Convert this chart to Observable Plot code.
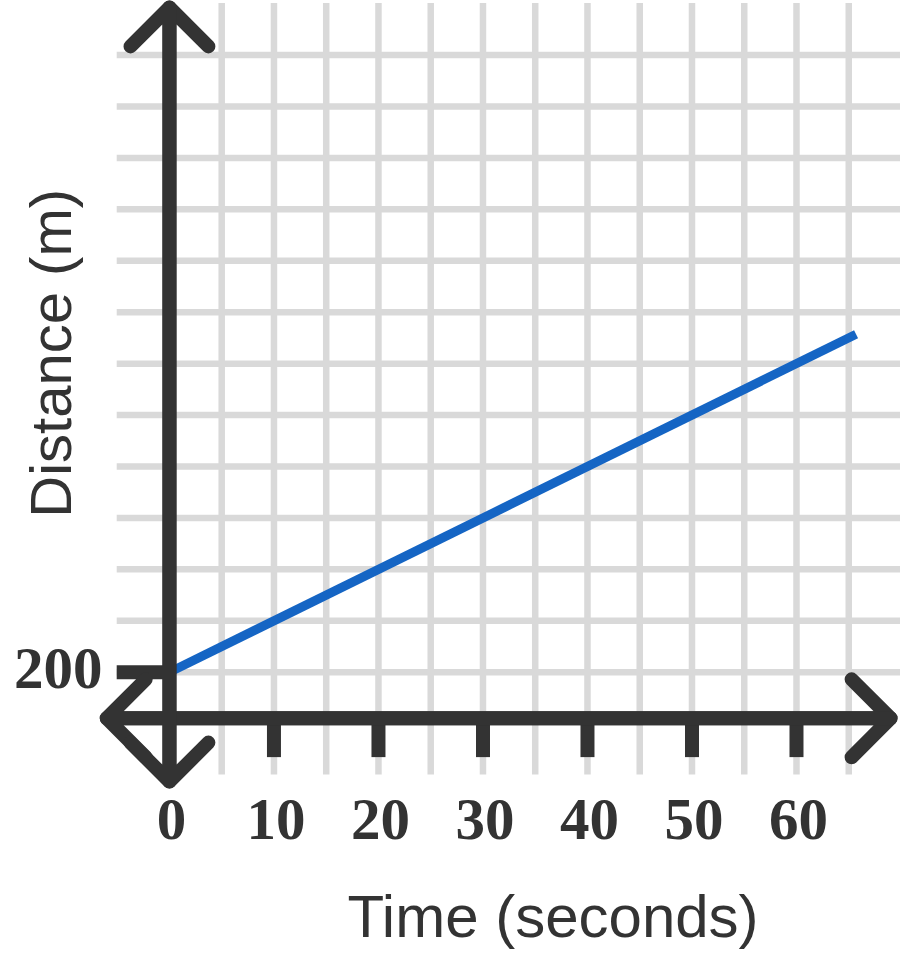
<!DOCTYPE html>
<html>
<head>
<meta charset="utf-8">
<script src="https://cdn.jsdelivr.net/npm/d3@7"></script>
<script src="https://cdn.jsdelivr.net/npm/@observablehq/plot@0.6"></script>
<style>
  html, body { margin: 0; padding: 0; background: #ffffff; }
  #chart svg { display: block; }
</style>
</head>
<body>
<div id="chart"></div>
<script>
// ---- data ----
const time = [0, 65.7];             // seconds
const distance = [200, 1514];       // metres
const xTickValues = [10, 20, 30, 40, 50, 60];
const xLabelValues = [0, 10, 20, 30, 40, 50, 60];
const xTickLabels = ["0", "10", "20", "30", "40", "50", "60"];
const yTickValues = [200];
const yTickLabels = ["200"];
const xGridValues = [5, 10, 15, 20, 25, 30, 35, 40, 45, 50, 55, 60, 65];
const yGridValues = [200, 400, 600, 800, 1000, 1200, 1400, 1600, 1800, 2000, 2200, 2400, 2600];
const xTitle = "Time (seconds)";
const yTitle = "Distance (m)";

// axis extents (data units)
const xMin = -5, xMax = 70, yMin = -200, yMax = 2800;
const xAxisAtY = 21;             // where the horizontal axis crosses
const xArrowFrom = -6, xArrowTo = 69;
const yArrowFrom = -225, yArrowTo = 2785;
const xTickEnd = -132;

const lineData = time.map((t, i) => ({t, d: distance[i]}));

const ink = "#333333";
const gridColor = "#d9d9d9";

const chart = Plot.plot({
  width: 900,
  height: 953,
  marginLeft: 169,
  marginRight: 0,
  marginTop: 0,
  marginBottom: 235.3,
  style: {background: "#ffffff", overflow: "visible"},
  x: {domain: [xMin, xMax], range: [116.7, 900.5], axis: null},
  y: {domain: [yMin, yMax], range: [774.6, 3.1], axis: null},
  marks: [
    // grid
    Plot.ruleX(xGridValues, {x: d => d, y1: yMin, y2: yMax, stroke: gridColor, strokeWidth: 6.5}),
    Plot.ruleY(yGridValues, {y: d => d, x1: xMin, x2: xMax, stroke: gridColor, strokeWidth: 6.5}),
    // data line
    Plot.line(lineData, {x: "t", y: "d", stroke: "#1565c4", strokeWidth: 9, strokeLinecap: "butt"}),
    // ticks
    Plot.ruleX(xTickValues, {x: d => d, y1: xAxisAtY, y2: xTickEnd, stroke: ink, strokeWidth: 14}),
    Plot.ruleY(yTickValues, {y: d => d, x1: xMin, x2: 0, stroke: ink, strokeWidth: 14}),
    // axes with arrowheads at both ends
    Plot.arrow([
      {x1: xArrowFrom, y1: xAxisAtY, x2: xArrowTo, y2: xAxisAtY},
      {x1: xArrowTo, y1: xAxisAtY, x2: xArrowFrom, y2: xAxisAtY},
      {x1: 0, y1: yArrowFrom, x2: 0, y2: yArrowTo},
      {x1: 0, y1: yArrowTo, x2: 0, y2: yArrowFrom}
    ], {x1: "x1", y1: "y1", x2: "x2", y2: "y2", stroke: ink, strokeWidth: 14,
        headAngle: 90, headLength: 5.9, strokeLinecap: "round", strokeLinejoin: "round"}),
    // tick labels
    Plot.text(xLabelValues, {x: d => d, text: (d, i) => xTickLabels[i], frameAnchor: "bottom",
      dy: 120.3, dx: 2, textAnchor: "middle", lineAnchor: "bottom", fontSize: 59, fontWeight: "bold",
      fontFamily: "Liberation Serif", fill: ink}),
    Plot.text(yTickValues, {y: d => d, text: (d, i) => yTickLabels[i], frameAnchor: "left",
      dx: -67, dy: 15.3, textAnchor: "end", lineAnchor: "bottom", fontSize: 59, fontWeight: "bold",
      fontFamily: "Liberation Serif", fill: ink}),
    // axis titles
    Plot.text([xTitle], {text: d => d, frameAnchor: "bottom", dx: 18, dy: 218.3,
      textAnchor: "middle", lineAnchor: "bottom",
      fontSize: 60, fontFamily: "Liberation Sans", fill: ink}),
    Plot.text([yTitle], {text: d => d, frameAnchor: "left", rotate: -90, dx: -99, dy: -6,
      textAnchor: "middle", lineAnchor: "bottom", fontSize: 58, fontFamily: "Liberation Sans", fill: ink})
  ]
});

document.getElementById("chart").appendChild(chart);
</script>
</body>
</html>
